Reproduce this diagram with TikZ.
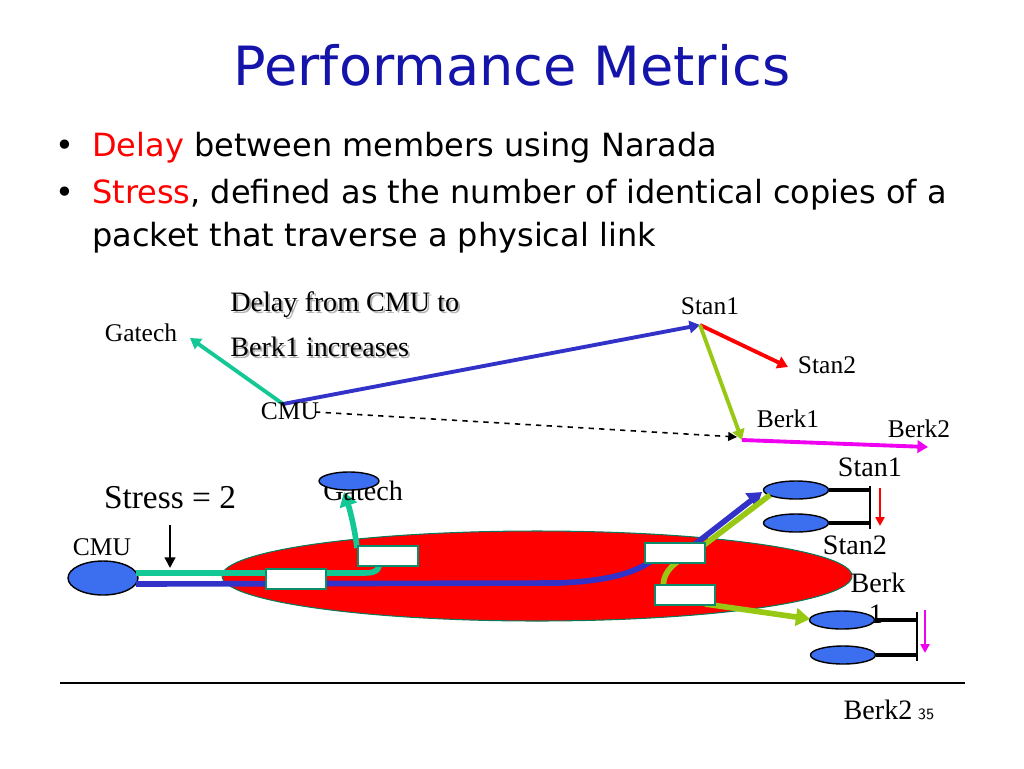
\documentclass[tikz,border=0pt]{standalone}
\usepackage{fontspec}
\setmainfont{Liberation Serif}
\newfontfamily\comic{DejaVu Sans}
\usetikzlibrary{arrows.meta,shapes.geometric}
\definecolor{ttl}{RGB}{20,20,170}
\definecolor{tealc}{RGB}{20,200,150}
\definecolor{bluec}{RGB}{50,50,200}
\definecolor{limec}{RGB}{150,200,20}
\definecolor{nodeb}{RGB}{60,110,240}
\definecolor{magc}{RGB}{240,0,240}
\begin{document}
\begin{tikzpicture}[x=0.02cm,y=-0.02cm,
 lbl/.style={font=\fontsize{14.5}{15}\selectfont,inner sep=0pt},
 big/.style={font=\fontsize{16}{17}\selectfont,inner sep=0pt},
 arr/.style={line width=2.2pt,-{Triangle[length=6pt,width=7pt]}},
 fat/.style={line width=3.2pt},
 fatarr/.style={line width=3.2pt,-{Triangle[length=8pt,width=10pt]}},
 host/.style={ellipse,draw=black,line width=0.8pt,fill=nodeb,inner sep=0pt},
 bul/.style={font=\comic\fontsize{18.2}{19}\selectfont,anchor=west,inner sep=0pt},
 dly/.style={font=\fontsize{16}{17}\selectfont,anchor=west,inner sep=0pt},
 wbox/.style={draw=tealc!70!black,fill=white,line width=0.8pt,minimum width=1.2cm,minimum height=0.4cm,inner sep=0pt}]
\useasboundingbox (0,0) rectangle (1024,768);
\node[font=\comic\fontsize{30.8}{33}\selectfont,text=ttl] (title) at (512,65) {Performance Metrics};
\node[bul] (b1) at (55,148) {\textbullet};
\node[bul] (t1) at (92,148) {\textcolor{red}{Delay} between members using Narada};
\node[bul] (b2) at (55,195) {\textbullet};
\node[bul] (t2) at (92,195) {\textcolor{red}{Stress}, defined as the number of identical copies of a};
\node[bul] (t3) at (92,238) {packet that traverse a physical link};
% top graph
\coordinate (cmu) at (283,404); \coordinate (gat) at (190,338);
\coordinate (s1) at (700,325); \coordinate (s2) at (788,367);
\coordinate (b1p) at (742,440); \coordinate (b2p) at (928,447);
\coordinate (dA) at (315,412); \coordinate (dB) at (737,437);
\draw[arr,tealc] (cmu) -- (gat);
\draw[arr,bluec] (cmu) -- (s1);
\draw[arr,red] (s1) -- (s2);
\draw[arr,limec] (s1) -- (b1p);
\draw[arr,magc] (b1p) -- (b2p);
\draw[dashed,line width=0.9pt,-{Triangle[length=5pt,width=5pt]}] (dA) -- (dB);
\node[lbl] (lg) at (141,333) {Gatech};
\node[lbl] (ls1) at (710,306) {Stan1};
\node[lbl] (ls2) at (827,365) {Stan2};
\node[lbl] (lc) at (290,411) {CMU};
\node[lbl] (lb1) at (788,419) {Berk1};
\node[lbl] (lb2) at (919,429) {Berk2};
\node[dly,text=gray!60] at (232,307) {Delay from CMU to};
\node[dly] (d1) at (230,305) {Delay from CMU to};
\node[dly,text=gray!60] at (232,349) {Berk1 increases};
\node[dly] (d2) at (230,347) {Berk1 increases};
% bottom
\node[ellipse,fill=red,draw=tealc!60!black,line width=0.6pt,minimum width=12.6cm,minimum height=1.8cm] (net) at (537,576) {};
\node[host,minimum width=1.4cm,minimum height=0.68cm] (hc) at (103,578) {};
\node[host,minimum width=1.3cm,minimum height=0.36cm] (hs1) at (796,490) {};
\node[host,minimum width=1.3cm,minimum height=0.36cm] (hs2) at (796,523) {};
\node[host,minimum width=1.3cm,minimum height=0.36cm] (hb1) at (842,620) {};
\node[host,minimum width=1.3cm,minimum height=0.36cm] (hb2) at (843,655) {};
\draw[line width=2.5pt] (hs1.east) -- (870,490);
\draw[line width=2.5pt] (hs2.east) -- (870,523);
\draw[line width=1.6pt] (870,486) -- (870,529);
\draw[line width=2.5pt] (hb1.east) -- (917,620);
\draw[line width=2.5pt] (hb2.east) -- (917,655);
\draw[line width=1.6pt] (917,612) -- (917,661);
\draw[red,line width=1.3pt,-{Triangle[length=5pt,width=5pt]}] (880,488) -- (880,526);
\draw[magc,line width=1.3pt,-{Triangle[length=5pt,width=5pt]}] (925,610) -- (925,653);
% paths
\draw[fat,bluec] (136,584) -- (560,583) .. controls (620,580) and (640,570) .. (660,555);
\draw[fatarr,bluec] (690,548) -- (762,492);
\draw[fat,tealc] (136,573) -- (365,573) .. controls (378,573) and (380,568) .. (380,560);
\draw[fatarr,tealc] (357,548) .. controls (355,530) and (350,510) .. (344,492);
\draw[fat,limec] (770,495) -- (700,548);
\draw[fat,limec] (680,560) .. controls (665,570) and (662,580) .. (664,590);
\draw[fatarr,limec] (705,604) -- (810,619);
\node[wbox] (w1) at (388,556) {};
\node[wbox] (w2) at (296,579) {};
\node[wbox] (w3) at (675,553) {};
\node[wbox] (w4) at (685,595) {};
\draw[line width=1.2pt,-{Triangle[length=6pt,width=6pt]}] (170,525) -- (170,568);
\node[inner sep=0pt,font=\fontsize{19}{20}\selectfont] (ls) at (170,498) {Stress = 2};
\node[lbl] (lcm) at (102,547) {CMU};
\node[big,anchor=west] (lgt) at (323,491) {Gatech};
\node[host,minimum width=1.2cm,minimum height=0.36cm] (hg) at (349,481) {};
\node[big] (ls1b) at (870,467) {Stan1};
\node[big] (ls2b) at (855,545) {Stan2};
\node[big] (lbk) at (878,583) {Berk};
\node[big] (lb1n) at (876,614) {1};
\node[big] (lb2b) at (878,710) {Berk2};
\node[font=\sffamily\fontsize{9}{10}\selectfont,inner sep=0pt] (pg) at (926,714) {35};
\draw[line width=0.6pt] (60,683) -- (965,683);
\end{tikzpicture}
\end{document}
